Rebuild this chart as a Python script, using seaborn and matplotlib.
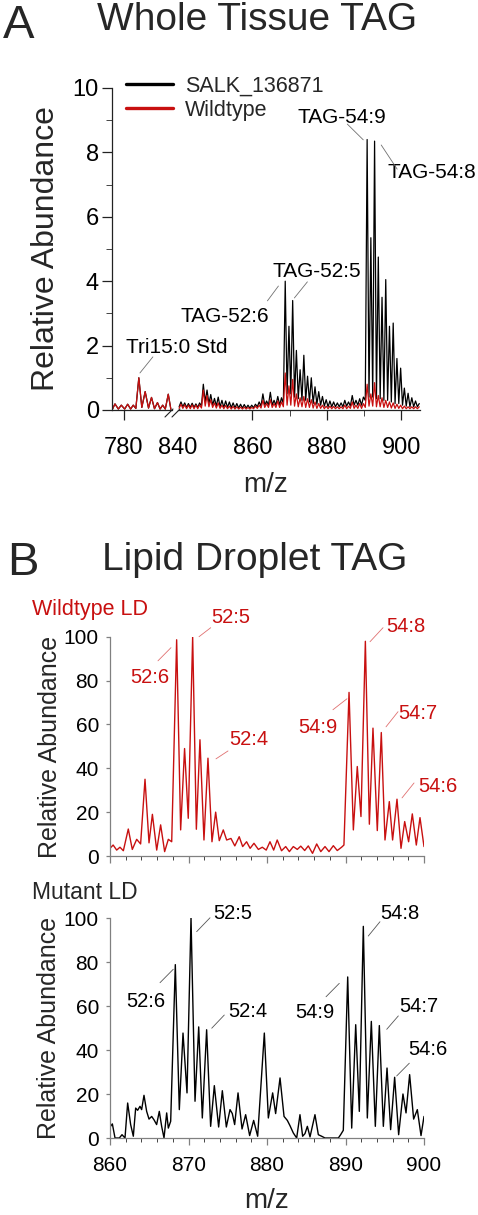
import numpy as np
import seaborn as sns
import matplotlib.pyplot as plt
from matplotlib.lines import Line2D
from matplotlib.ticker import MultipleLocator

W, H = 478, 1215
RED = '#c81010'
GREY = '#808080'

# ---------------- Panel A: whole tissue TAG (relative abundance) ----------------
# internal standard region (both traces overlap here)
mz_std = [776.9, 777.6, 778.5, 779.3, 780.2, 781.0, 781.8, 782.5, 783.2, 784.0, 784.8,
          785.7, 786.6, 787.4, 788.2, 789.0, 789.7, 790.4, 791.1, 791.9, 792.6]
ab_std = [0.02, 0.19, 0.03, 0.15, 0.03, 0.18, 0.03, 0.15, 0.05, 1.00, 0.08,
          0.57, 0.06, 0.39, 0.04, 0.23, 0.03, 0.15, 0.03, 0.49, 0.02]

# TAG region, valley/peak pairs at n.3 / n.8 from 840 to 904
mz_tag = np.arange(840.3, 905.0, 0.5)
salk_tag = [0.10, 0.25, 0.10, 0.22, 0.08, 0.20, 0.08, 0.21, 0.08, 0.19,   # 840-844
            0.08, 0.22, 0.12, 0.80, 0.25, 0.62, 0.20, 0.48, 0.15, 0.36,   # 845-849
            0.12, 0.40, 0.10, 0.30, 0.08, 0.28, 0.08, 0.25, 0.07, 0.22,   # 850-854
            0.07, 0.20, 0.06, 0.18, 0.06, 0.17, 0.06, 0.15, 0.06, 0.15,   # 855-859
            0.07, 0.18, 0.10, 0.25, 0.12, 0.50, 0.15, 0.28, 0.15, 0.55,   # 860-864
            0.15, 0.30, 0.15, 0.42, 0.15, 0.38, 0.20, 4.00, 0.50, 2.60,   # 865-869
            0.50, 3.40, 0.40, 1.85, 0.35, 1.25, 0.30, 1.70, 0.30, 1.05,   # 870-874
            0.25, 1.00, 0.20, 0.72, 0.18, 0.57, 0.15, 0.42, 0.12, 0.32,   # 875-879
            0.10, 0.28, 0.10, 0.25, 0.10, 0.22, 0.10, 0.22, 0.10, 0.30,   # 880-884
            0.12, 0.25, 0.12, 0.45, 0.15, 0.30, 0.15, 0.35, 0.15, 0.40,   # 885-889
            0.30, 8.40, 0.40, 5.35, 0.40, 8.35, 0.35, 4.75, 0.35, 3.50,   # 890-894
            0.30, 4.05, 0.30, 2.60, 0.25, 2.70, 0.20, 1.60, 0.20, 1.30,   # 895-899
            0.15, 0.68, 0.12, 0.52, 0.10, 0.38, 0.10, 0.28, 0.10, 0.20]   # 900-904
wt_tag = [0.05, 0.18, 0.05, 0.16, 0.04, 0.15, 0.04, 0.16, 0.04, 0.15,
          0.04, 0.16, 0.06, 0.62, 0.12, 0.45, 0.10, 0.32, 0.08, 0.22,
          0.06, 0.22, 0.05, 0.15, 0.04, 0.14, 0.04, 0.12, 0.03, 0.11,
          0.03, 0.10, 0.03, 0.09, 0.03, 0.09, 0.03, 0.08, 0.03, 0.08,
          0.04, 0.12, 0.05, 0.15, 0.06, 0.30, 0.08, 0.20, 0.08, 0.32,
          0.08, 0.20, 0.08, 0.28, 0.08, 0.25, 0.10, 1.15, 0.15, 0.75,
          0.15, 0.95, 0.12, 0.50, 0.10, 0.38, 0.10, 0.42, 0.08, 0.35,
          0.08, 0.32, 0.06, 0.25, 0.05, 0.20, 0.05, 0.15, 0.04, 0.12,
          0.04, 0.12, 0.04, 0.11, 0.04, 0.10, 0.04, 0.10, 0.04, 0.15,
          0.04, 0.12, 0.05, 0.25, 0.05, 0.15, 0.05, 0.20, 0.05, 0.20,
          0.08, 0.80, 0.12, 0.50, 0.12, 0.85, 0.10, 0.45, 0.10, 0.38,
          0.08, 0.30, 0.08, 0.25, 0.06, 0.22, 0.05, 0.18, 0.05, 0.15,
          0.04, 0.12, 0.04, 0.10, 0.04, 0.10, 0.04, 0.10, 0.04, 0.10]

# ---------------- Panel B: lipid droplet TAG ----------------
mz_wt_ld = [860.0, 860.4, 860.85, 861.27, 861.7, 862.33, 862.84, 863.4, 863.9, 864.46,
            864.97, 865.4, 865.95, 866.45, 866.96, 867.43, 867.86, 868.49, 869.0, 869.5,
            869.97, 870.53, 871.0, 871.46, 871.97, 872.48, 872.99, 873.46, 873.92, 874.43,
            874.86, 875.41, 875.9, 876.46, 876.9, 877.4, 877.85, 878.34, 878.9, 879.4,
            879.9, 880.38, 880.85, 881.3, 881.85, 882.38, 882.85, 883.35, 883.86, 884.3,
            884.8, 885.26, 885.8, 886.33, 886.85, 887.39, 887.9, 888.45, 888.95, 889.5,
            889.8, 890.45, 891.0, 891.5, 891.97, 892.53, 893.04, 893.5, 894.05, 894.56,
            895.03, 895.58, 896.0, 896.56, 897.07, 897.54, 898.04, 898.51, 899.02, 899.49,
            900.0]
ab_wt_ld = [3.5, 5.0, 2.7, 4.0, 2.4, 12.3, 3.0, 7.6, 5.5, 35.0,
            6.0, 19.0, 2.7, 14.2, 2.0, 7.6, 6.5, 98.6, 11.9, 49.0,
            17.2, 100.0, 12.2, 53.0, 7.3, 44.6, 6.5, 20.0, 7.0, 11.9,
            7.3, 8.0, 4.6, 8.8, 4.3, 6.5, 3.5, 5.8, 3.0, 4.0,
            2.7, 6.5, 2.7, 7.3, 2.4, 4.3, 2.0, 4.3, 3.0, 4.5,
            2.5, 4.6, 1.2, 5.5, 2.0, 4.3, 2.0, 4.7, 2.5, 4.0,
            5.0, 74.6, 11.9, 40.8, 18.0, 97.9, 14.5, 58.3, 11.6, 56.3,
            7.3, 24.8, 7.3, 25.9, 3.5, 15.7, 6.5, 19.2, 5.0, 17.5,
            4.3]

mz_mut_ld = [860.0, 860.3, 860.64, 861.19, 861.53, 861.91, 862.25, 862.63, 862.97, 863.27,
             863.52, 863.82, 864.03, 864.33, 864.67, 864.97, 865.31, 865.6, 865.94, 866.28,
             866.58, 866.88, 867.22, 867.43, 867.73, 868.32, 868.83, 869.3, 869.81, 870.32,
             870.83, 871.3, 871.76, 872.31, 872.82, 873.29, 873.84, 874.31, 874.82, 875.29,
             875.58, 875.88, 876.31, 876.82, 877.28, 877.79, 878.3, 878.81, 879.66, 880.17,
             880.72, 881.1, 881.66, 882.17, 882.59, 882.93, 883.35, 883.78, 884.2, 884.54,
             884.84, 885.14, 885.48, 886.11, 886.54, 886.96, 887.39, 889.09, 889.38, 889.72,
             890.28, 890.79, 891.3, 891.76, 892.27, 892.78, 893.29, 893.8, 894.31, 894.82,
             895.29, 895.75, 896.26, 896.77, 897.32, 897.71, 898.17, 898.68, 899.15, 899.62,
             900.0]
ab_mut_ld = [5.0, 6.4, 0.0, 0.0, 1.5, 0.0, 15.9, 6.1, 0.8, 13.6,
             12.6, 14.4, 12.9, 19.4, 12.1, 8.6, 9.8, 8.3, 6.1, 12.1,
             5.3, 0.0, 11.4, 4.5, 7.6, 78.8, 12.9, 47.7, 20.5, 100.0,
             16.7, 50.5, 9.1, 49.2, 5.3, 23.8, 5.0, 21.5, 5.0, 12.9,
             11.1, 6.1, 20.5, 4.1, 10.6, 1.1, 8.0, 0.8, 47.7, 9.1,
             20.5, 11.1, 27.3, 9.8, 8.0, 5.6, 2.3, 0.0, 10.6, 0.8,
             2.0, 5.3, 0.5, 10.6, 1.5, 0.8, 0.0, 0.0, 1.5, 3.5,
             73.2, 4.5, 51.5, 12.1, 96.2, 9.1, 53.0, 5.3, 51.1, 5.3,
             31.8, 3.8, 27.6, 1.5, 20.0, 11.4, 28.8, 8.6, 12.9, 1.1,
             9.8]

# labels: (text, text x, text baseline y, leader start, leader end)
labels_a = [('TAG-54:9', 872.06, 8.91, (885.47, 8.88), (889.76, 8.39)),
            ('TAG-54:8', 896.19, 7.20, (894.58, 8.23), (898.87, 7.48)),
            ('TAG-52:5', 865.36, 4.13, (874.75, 3.98), (871.26, 3.48)),
            ('TAG-52:6', 840.70, 2.73, (864.02, 3.39), (866.97, 3.85))]
label_std = ('Tri15:0 Std', 780.54, 1.77, (787.77, 1.65), (784.29, 1.15))

labels_wt = [('52:5', 872.87, 106.2, (872.83, 104.1), (871.34, 100.0)),
             ('52:6', 862.55, 78.9, (866.11, 89.0), (867.77, 95.0)),
             ('52:4', 875.16, 50.6, (875.03, 47.9), (873.5, 44.3)),
             ('54:8', 895.16, 102.1, (894.78, 104.1), (893.12, 97.7)),
             ('54:9', 883.95, 56.1, (888.4, 66.7), (890.19, 71.7)),
             ('54:7', 896.69, 62.5, (896.69, 65.8), (895.16, 58.9)),
             ('54:6', 899.24, 29.2, (898.73, 33.3), (897.2, 26.5))]
labels_mut = [('52:5', 873.12, 99.5, (872.74, 100.1), (871.04, 93.8)),
              ('52:6', 862.04, 59.5, (866.37, 70.6), (868.06, 76.7)),
              ('52:4', 875.03, 55.0, (874.56, 55.9), (872.96, 49.9)),
              ('54:8', 894.39, 99.5, (894.39, 98.3), (892.9, 91.8)),
              ('54:9', 883.57, 54.5, (887.52, 64.2), (889.21, 70.3)),
              ('54:7', 896.82, 57.3, (896.73, 55.5), (895.25, 49.4)),
              ('54:6', 897.96, 37.7, (898.13, 34.0), (896.52, 28.2))]


def fx(px):
    return px / W


def fy(py):
    return 1 - py / H


def add_labels(ax, labels, color, line_color, size):
    for txt, tx, ty, p0, p1 in labels:
        ax.text(tx, ty, txt, ha='left', va='baseline', fontsize=size, color=color, clip_on=False)
        ax.annotate('', xy=p1, xytext=p0, annotation_clip=False,
                    arrowprops=dict(arrowstyle='-', color=line_color, lw=0.6, shrinkA=0, shrinkB=0))


def style_ax(ax, color):
    for s in ['top', 'right']:
        ax.spines[s].set_visible(False)
    for s in ['left', 'bottom']:
        ax.spines[s].set_color(color)
        ax.spines[s].set_linewidth(0.9)
    ax.tick_params(colors=color, labelcolor='black', direction='out', width=0.9)
    ax.patch.set_visible(False)


sns.set_style('ticks')
plt.rcParams['font.family'] = ['Liberation Sans', 'DejaVu Sans']

fig = plt.figure(figsize=(W / 100, H / 100), dpi=100)

# ---- panel A, broken x axis
ax_l = fig.add_axes([fx(112), fy(410), 60 / W, 322 / H])
ax_r = fig.add_axes([fx(178), fy(410), 242 / W, 322 / H])

sns.lineplot(x=mz_std, y=ab_std, ax=ax_l, color='black', linewidth=0.9, errorbar=None)
sns.lineplot(x=mz_std, y=ab_std, ax=ax_l, color=RED, linewidth=0.9, errorbar=None)
sns.lineplot(x=mz_tag, y=salk_tag, ax=ax_r, color='black', linewidth=0.9, errorbar=None)
sns.lineplot(x=mz_tag, y=wt_tag, ax=ax_r, color=RED, linewidth=0.9, errorbar=None)

for ax in (ax_l, ax_r):
    style_ax(ax, '#222222')
    ax.set_ylim(0, 10)
    ax.set_xlabel('')
    ax.tick_params(axis='x', which='major', length=7.5, labelsize=17, pad=12)
    ax.tick_params(axis='x', which='minor', length=4.5)

ax_l.set_xlim(776.8, 792.9)
ax_l.set_xticks([780])
ax_l.set_yticks(range(0, 11, 2))
ax_l.yaxis.set_minor_locator(MultipleLocator(1))
ax_l.tick_params(axis='y', which='major', length=7.5, labelsize=17, pad=2)
ax_l.tick_params(axis='y', which='minor', length=4)
ax_l.set_ylabel('Relative Abundance', fontsize=23)
ax_l.yaxis.set_label_coords(fx(61), fy(249), transform=fig.transFigure)

ax_r.set_xlim(840, 905)
ax_r.spines['left'].set_visible(False)
ax_r.set_yticks([])
ax_r.set_ylabel('')
ax_r.set_xticks([840, 860, 880, 900])
ax_r.set_xticks([870, 890], minor=True)
ax_r.xaxis.get_major_ticks()[0].tick1line.set_visible(False)

# break marks on the axis
for x0 in (165, 172):
    fig.add_artist(Line2D([fx(x0), fx(x0 + 8)], [fy(417), fy(409)], transform=fig.transFigure,
                          color='#222222', lw=0.8))

add_labels(ax_r, labels_a, 'black', '#707070', 15)
add_labels(ax_l, [label_std], 'black', '#707070', 15)

handles = [Line2D([], [], color='black', lw=2.4), Line2D([], [], color=RED, lw=2.4)]
ax_r.legend(handles, ['SALK_136871', 'Wildtype'], loc='upper left', frameon=False,
            bbox_to_anchor=(fx(126), fy(76)), bbox_transform=fig.transFigure,
            borderpad=0, borderaxespad=0, handlelength=2.2, handletextpad=0.55,
            labelspacing=0.12, fontsize=15.5)

fig.text(fx(3), fy(38), 'A', fontsize=34, va='baseline')
fig.text(fx(97), fy(30), 'Whole Tissue TAG', fontsize=28, va='baseline')
fig.text(fx(266), fy(492), 'm/z', fontsize=20, ha='center', va='baseline')

# ---- panel B
ax_wt = fig.add_axes([fx(110), fy(856), 314 / W, 219.3 / H])
ax_mut = fig.add_axes([fx(110), fy(1138), 314 / W, 220 / H])

sns.lineplot(x=mz_wt_ld, y=ab_wt_ld, ax=ax_wt, color=RED, linewidth=1.0, errorbar=None)
sns.lineplot(x=mz_mut_ld, y=ab_mut_ld, ax=ax_mut, color='black', linewidth=1.0, errorbar=None)

for ax in (ax_wt, ax_mut):
    style_ax(ax, GREY)
    ax.set_xlim(860, 900)
    ax.set_ylim(0, 100)
    ax.xaxis.set_major_locator(MultipleLocator(10))
    ax.xaxis.set_minor_locator(MultipleLocator(2))
    ax.set_yticks(range(0, 101, 20))
    ax.tick_params(axis='x', which='major', length=5, labelsize=15, pad=8)
    ax.tick_params(axis='x', which='minor', length=3)
    ax.tick_params(axis='y', which='major', length=3, labelsize=15, pad=5)
    ax.set_xlabel('')
    ax.set_ylabel('Relative Abundance', fontsize=18)

ax_wt.tick_params(axis='x', labelbottom=False)
ax_wt.yaxis.set_label_coords(fx(62), fy(747), transform=fig.transFigure)
ax_mut.yaxis.set_label_coords(fx(61), fy(1028), transform=fig.transFigure)

add_labels(ax_wt, labels_wt, RED, '#e07070', 14.5)
add_labels(ax_mut, labels_mut, 'black', '#555555', 14.5)

fig.text(fx(7), fy(575), 'B', fontsize=34, va='baseline')
fig.text(fx(102), fy(570), 'Lipid Droplet TAG', fontsize=28, va='baseline')
fig.text(fx(32), fy(615), 'Wildtype LD', fontsize=15.5, color=RED, va='baseline')
fig.text(fx(32), fy(899), 'Mutant LD', fontsize=16.5, va='baseline')
fig.text(fx(267), fy(1208), 'm/z', fontsize=20, ha='center', va='baseline')

fig.savefig('out.png', dpi=100)
